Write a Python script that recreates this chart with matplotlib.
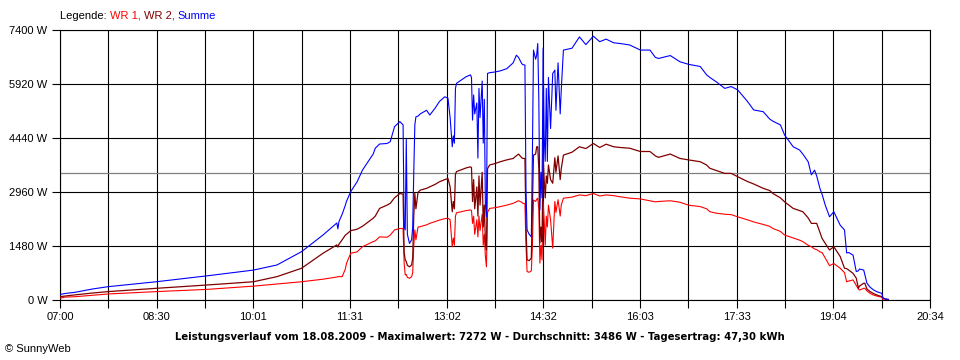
import matplotlib
matplotlib.use("Agg")
from matplotlib import pyplot as plt
import numpy as np

# Messwerte (Uhrzeit, WR 1, WR 2, Summe) in W
times = ["07:00", "07:05", "07:14", "07:30", "07:45", "08:30", "09:17", "10:01", "10:23", "10:46",
         "11:06", "11:19", "11:20", "11:21", "11:24", "11:27", "11:28", "11:32", "11:38", "11:43",
         "11:53", "11:55", "11:59", "12:06", "12:09", "12:13", "12:18", "12:21", "12:22", "12:23",
         "12:24", "12:25", "12:27", "12:29", "12:30", "12:31", "12:32", "12:33", "12:35", "12:37",
         "12:43", "12:46", "12:51", "12:55", "13:00", "13:03", "13:05", "13:07", "13:08", "13:09",
         "13:10", "13:11", "13:20", "13:24", "13:25", "13:26", "13:27", "13:28", "13:30", "13:31",
         "13:32", "13:33", "13:35", "13:36", "13:37", "13:38", "13:39", "13:40", "13:42", "13:47",
         "13:52", "13:58", "14:04", "14:07", "14:09", "14:12", "14:13", "14:15", "14:16", "14:17",
         "14:19", "14:21", "14:22", "14:23", "14:25", "14:26", "14:27", "14:28", "14:29", "14:30",
         "14:31", "14:32", "14:33", "14:34", "14:35", "14:36", "14:37", "14:39", "14:41", "14:43",
         "14:44", "14:46", "14:48", "14:49", "14:51", "14:59", "15:06", "15:12", "15:19", "15:25",
         "15:31", "15:38", "15:44", "15:53", "16:03", "16:12", "16:17", "16:20", "16:31", "16:40",
         "16:48", "16:59", "17:05", "17:08", "17:14", "17:22", "17:28", "17:34", "17:43", "17:49",
         "17:58", "18:04", "18:07", "18:14", "18:18", "18:26", "18:32", "18:35", "18:40", "18:43",
         "18:46", "18:48", "18:51", "18:53", "18:56", "19:00", "19:04", "19:10", "19:14", "19:16",
         "19:18", "19:22", "19:25", "19:27", "19:28", "19:32", "19:33", "19:35", "19:38", "19:41",
         "19:44", "19:49", "19:50", "19:52", "19:55"]
wr1 = [50, 80, 90, 130, 165, 230, 290, 380, 440, 500,
       570, 630, 640, 640, 640, 850, 1000, 1280, 1320, 1460,
       1600, 1620, 1730, 1720, 1780, 1920, 1960, 1960, 1000, 685,
       700, 620, 595, 640, 750, 1500, 1920, 1650, 2000, 2010,
       2060, 2100, 2150, 2190, 2230, 2240, 2200, 1460, 1700, 1500,
       2300, 2390, 2450, 2470, 2450, 2100, 2300, 1800, 2200, 1730,
       2300, 1900, 2350, 1500, 1800, 1200, 910, 2400, 2510, 2530,
       2560, 2600, 2650, 2690, 2720, 2680, 2650, 2640, 1500, 780,
       760, 800, 1500, 2740, 2700, 2760, 2790, 2500, 1010, 1500,
       1100, 2700, 2200, 1500, 2300, 2000, 2600, 2200, 1420, 2700,
       2400, 2750, 2300, 2600, 2790, 2820, 2880, 2860, 2920, 2850,
       2880, 2860, 2830, 2790, 2770, 2720, 2690, 2700, 2720, 2680,
       2600, 2560, 2500, 2420, 2380, 2350, 2340, 2280, 2200, 2140,
       2070, 2020, 1960, 1880, 1780, 1700, 1640, 1600, 1500, 1460,
       1400, 1380, 1320, 1300, 1150, 940, 1000, 870, 750, 500,
       520, 550, 400, 300, 270, 320, 320, 250, 180, 137,
       110, 75, 0, 0, 0]
wr2 = [90, 110, 140, 190, 230, 320, 410, 500, 640, 870,
       1280, 1510, 1450, 1530, 1650, 1780, 1800, 1900, 1940, 2020,
       2240, 2300, 2510, 2600, 2650, 2800, 2920, 2900, 1300, 1100,
       1050, 950, 910, 960, 1150, 2300, 2920, 2500, 2950, 3010,
       3060, 3100, 3170, 3240, 3300, 3330, 3100, 2420, 2700, 2500,
       3450, 3520, 3620, 3650, 3630, 2700, 3300, 2500, 3100, 2300,
       3400, 2600, 3500, 2000, 2600, 1600, 1370, 3600, 3700, 3740,
       3790, 3840, 3880, 3950, 4000, 3900, 3880, 3880, 2000, 1100,
       1080, 1150, 2500, 3970, 4000, 4200, 4200, 3600, 1560, 2000,
       1600, 4000, 3300, 2800, 3400, 3200, 3700, 3300, 3200, 3900,
       3500, 3950, 3300, 3600, 3970, 4050, 4200, 4150, 4290, 4180,
       4270, 4200, 4180, 4160, 4070, 4070, 3950, 3910, 4000, 3880,
       3840, 3790, 3700, 3610, 3550, 3470, 3470, 3380, 3250, 3180,
       3060, 3000, 2920, 2800, 2690, 2510, 2450, 2420, 2250, 2100,
       2100, 2100, 1850, 1690, 1550, 1370, 1460, 1190, 870, 860,
       820, 730, 600, 320, 380, 460, 460, 300, 230, 180,
       140, 90, 60, 30, 0]
summe = [150, 180, 210, 300, 365, 500, 660, 820, 960, 1325,
         1780, 2110, 1950, 2150, 2350, 2600, 2700, 2970, 3240, 3560,
         4000, 4160, 4275, 4290, 4340, 4750, 4890, 4800, 2000, 1920,
         4400, 1800, 1550, 1650, 2000, 3500, 4800, 5020, 5040, 5100,
         5200, 5070, 5260, 5440, 5570, 5530, 5000, 4200, 4500, 4300,
         5800, 5940, 6120, 6170, 6100, 4930, 5620, 5100, 5400, 3890,
         5800, 5000, 6000, 4300, 5500, 2600, 2280, 6210, 6230, 6250,
         6280, 6340, 6500, 6710, 6650, 6480, 6450, 6440, 3000, 1920,
         1800, 1730, 4000, 6850, 6600, 6710, 7030, 5500, 2470, 3500,
         2800, 6900, 4500, 3800, 5800, 3800, 6100, 4700, 6210, 6300,
         5200, 6500, 5100, 5760, 6850, 6900, 7210, 7000, 7230, 7080,
         7150, 7050, 7030, 6990, 6850, 6850, 6650, 6620, 6700, 6530,
         6460, 6400, 6170, 6100, 5980, 5800, 5850, 5760, 5450, 5210,
         5160, 4960, 4900, 4800, 4520, 4200, 4110, 4000, 3790, 3430,
         3560, 3400, 3060, 2900, 2600, 2280, 2420, 2050, 1920, 1290,
         1300, 1230, 780, 800, 850, 820, 700, 460, 350, 280,
         230, 180, 45, 30, 20]

durchschnitt = 3486
y_ticks = [0, 1480, 2960, 4440, 5920, 7400]
x_labels = ["07:00", "08:30", "10:01", "11:31", "13:02", "14:32", "16:03", "17:33", "19:04", "20:34"]
titel = ("Leistungsverlauf vom 18.08.2009 - Maximalwert: 7272 W - "
         "Durchschnitt: 3486 W - Tagesertrag: 47,30 kWh")


def minutes(s):
    h, m = s.split(":")
    return int(h) * 60 + int(m)


t = np.array([minutes(s) for s in times])
t0, t1 = minutes(x_labels[0]), minutes(x_labels[-1])

plt.rcParams['font.family'] = ['Liberation Sans', 'DejaVu Sans']

fig = plt.figure(figsize=(9.6, 3.6), dpi=100)
ax = fig.add_axes([60 / 960, 60 / 360, 870 / 960, 270 / 360])

ax.plot(t, wr1, color='#ff0000', lw=0.8, zorder=3)
ax.plot(t, wr2, color='#800000', lw=0.9, zorder=4)
ax.plot(t, summe, color='#0000ff', lw=0.8, zorder=5)
ax.axhline(durchschnitt, color='#808080', lw=0.9, zorder=2)

ax.set_xlim(t0, t1)
ax.set_ylim(0, 7400)

grid_x = np.linspace(t0, t1, 19)
ax.set_xticks(grid_x)
ax.set_xticklabels([x_labels[i // 2] if i % 2 == 0 else "" for i in range(19)], fontsize=8)
ax.set_yticks(y_ticks)
ax.set_yticklabels([f"{v} W" for v in y_ticks], fontsize=8)
ax.tick_params(direction='out', length=6, width=0.8, color='black', pad=3)
ax.grid(True, color='black', lw=0.8, zorder=1)
for s in ax.spines.values():
    s.set_linewidth(0.8)

# Legende oben
x_leg = 60 / 960
y_leg = 1 - 16 / 360
parts = [("Legende: ", 'black'), ("WR 1, ", '#ff0000'), ("WR 2, ", '#800000'), ("Summe", '#0000ff')]
txt = None
for s, c in parts:
    if txt is None:
        txt = fig.text(x_leg, y_leg, s, color=c, fontsize=8, va='center')
    else:
        txt = ax.annotate(s, xy=(1, 0), xycoords=txt, va='bottom', color=c, fontsize=8,
                          annotation_clip=False)

fig.text(480 / 960, 1 - 337 / 360, titel, ha='center', va='center', fontsize=7.3,
         fontweight='bold', family='DejaVu Sans')
fig.text(5 / 960, 1 - 349 / 360, "© SunnyWeb", ha='left', va='center', fontsize=8)

fig.savefig('out.png', dpi=100)
